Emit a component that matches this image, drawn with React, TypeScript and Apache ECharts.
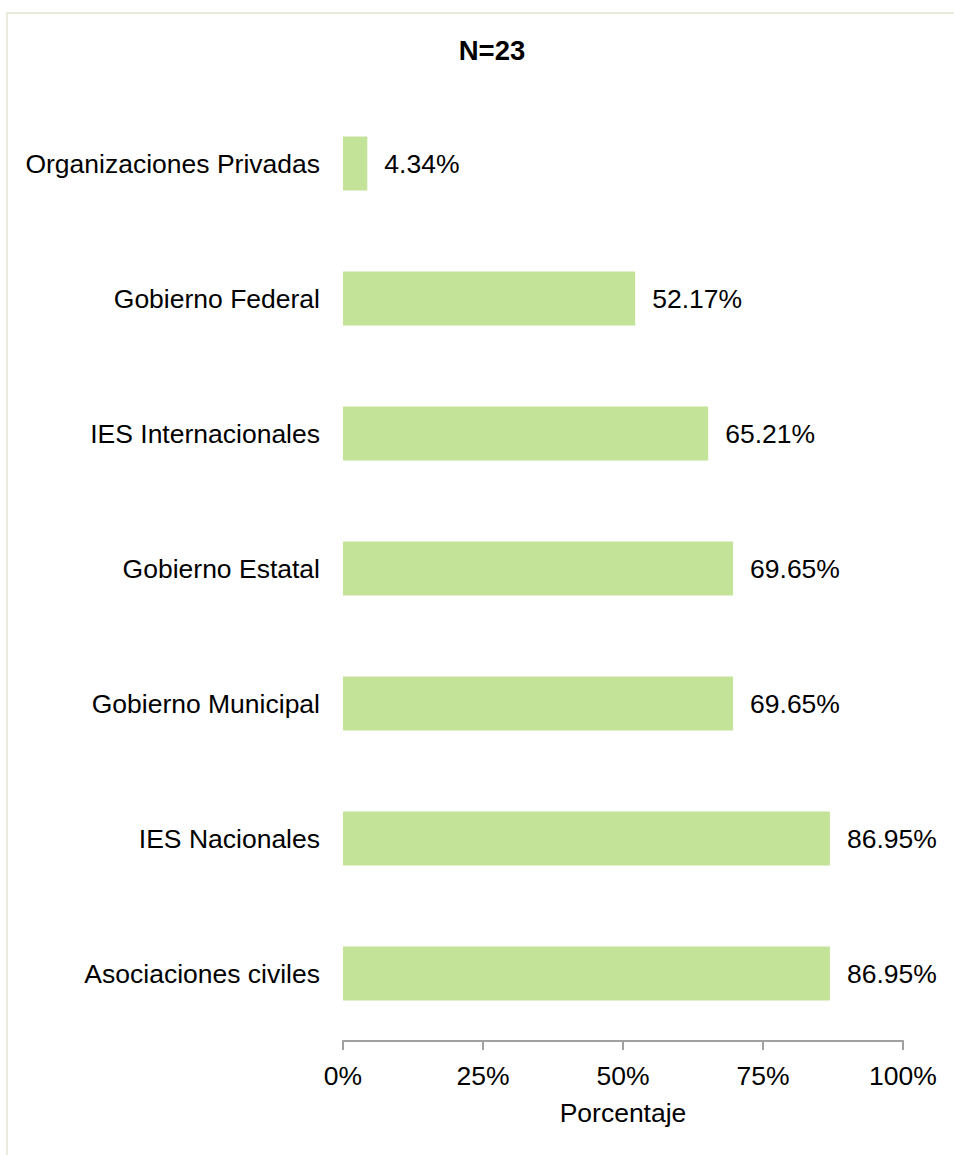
import React, { useEffect, useRef } from "react";
import * as echarts from "echarts";

const categories = [
  "Organizaciones Privadas",
  "Gobierno Federal",
  "IES Internacionales",
  "Gobierno Estatal",
  "Gobierno Municipal",
  "IES Nacionales",
  "Asociaciones civiles",
];
const values = [4.34, 52.17, 65.21, 69.65, 69.65, 86.95, 86.95];
const xTicks = [0, 25, 50, 75, 100];
const titleText = "N=23";
const xAxisName = "Porcentaje";

const FONT = "'Liberation Sans', Arial, sans-serif";
const FS = 26.5;

export default function App() {
  const ref = useRef<HTMLDivElement>(null);
  useEffect(() => {
    if (!ref.current) return;
    const chart = echarts.init(ref.current, null, { renderer: "svg" });
    chart.setOption({
      animation: false,
      backgroundColor: "#ffffff",
      textStyle: { fontFamily: FONT },
      title: {
        text: titleText,
        left: 487,
        top: 31,
        textAlign: "center",
        textStyle: { fontFamily: FONT, fontSize: 27.5, fontWeight: "bold", color: "#000" },
      },
      graphic: [
        {
          type: "rect",
          shape: { x: 7, y: 13, width: 960, height: 1160 },
          style: { fill: "none", stroke: "#ECE9DD", lineWidth: 2 },
          silent: true,
        },
      ],
      grid: { left: 343, right: 51, top: 96, bottom: 114, containLabel: false },
      xAxis: {
        type: "value",
        min: 0,
        max: 100,
        interval: 25,
        name: xAxisName,
        nameLocation: "middle",
        nameGap: 58,
        nameTextStyle: { fontFamily: FONT, fontSize: FS, color: "#000" },
        axisLine: { show: true, lineStyle: { color: "#A0A0A0", width: 2 } },
        axisTick: { show: true, length: 9, lineStyle: { color: "#A0A0A0", width: 2 } },
        splitLine: { show: false },
        axisLabel: {
          margin: 21,
          fontFamily: FONT,
          fontSize: FS,
          color: "#000",
          formatter: (v: number) => (xTicks.includes(v) ? v + "%" : ""),
        },
      },
      yAxis: {
        type: "category",
        data: categories,
        inverse: true,
        axisLine: { show: false },
        axisTick: { show: false },
        splitLine: { show: false },
        axisLabel: { margin: 23, fontFamily: FONT, fontSize: FS, color: "#000" },
      },
      series: [
        {
          type: "bar",
          data: values,
          barWidth: 54,
          itemStyle: { color: "#C3E399" },
          label: {
            show: true,
            position: "right",
            distance: 17,
            fontFamily: FONT,
            fontSize: FS,
            color: "#000",
            formatter: (p: any) => p.value.toFixed(2) + "%",
          },
        },
      ],
    });
    return () => chart.dispose();
  }, []);
  return (
    <div
      ref={ref}
      style={{ position: "absolute", left: 0, top: 0, width: 954, height: 1155 }}
    />
  );
}
